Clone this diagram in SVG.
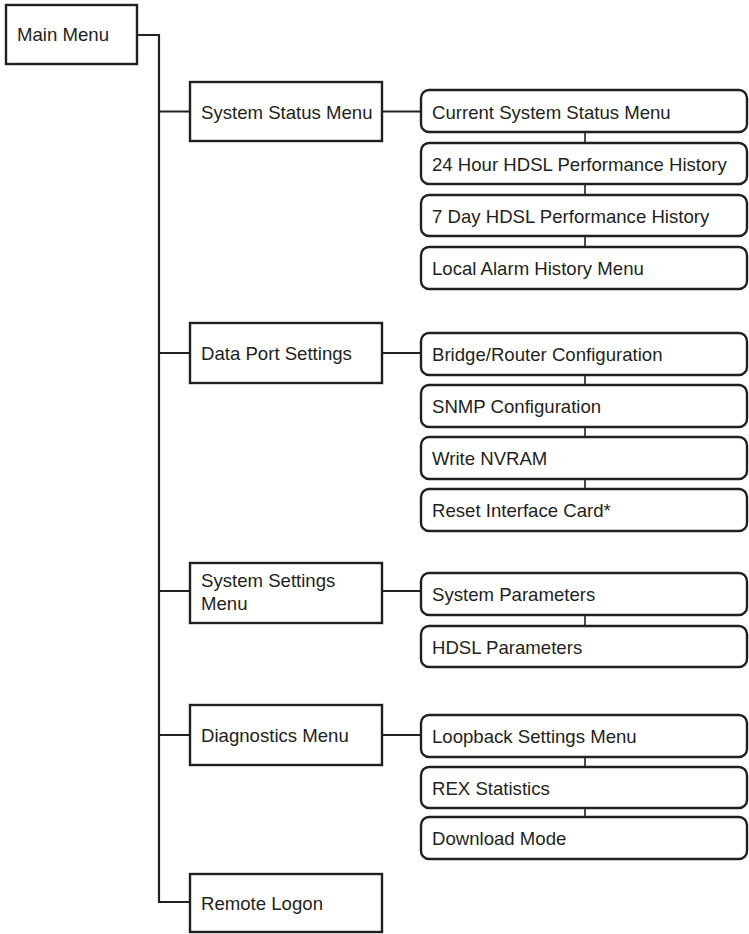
<svg xmlns="http://www.w3.org/2000/svg" width="749" height="934" viewBox="0 0 749 934">
<style>
.box{fill:#fff;stroke:#231f20;stroke-width:2.4}
.sub{fill:#fff;stroke:#231f20;stroke-width:2.4}
.t{font-family:"Liberation Sans",Arial,sans-serif;font-size:18.6px;fill:#231f20}
.c{fill:none;stroke:#231f20;stroke-width:2.2}
.v{fill:none;stroke:#231f20;stroke-width:1.6}
</style>
<rect width="749" height="934" fill="#fff"/>
<g id="connectors">
<path class="c" d="M137,35 H159 V902 H190"/>
<path class="c" d="M159,111.5 H190 M159,353 H190 M159,591 H190 M159,735 H190"/>
<path class="c" d="M382,111.5 H421 M382,353 H421 M382,591 H421 M382,735 H421"/>
<path class="v" d="M585,132 V143 M585,184 V195 M585,236 V247 M585,375 V385 M585,427 V437 M585,479 V489 M585,615 V626 M585,757 V767 M585,808 V817"/>
</g>
<g id="main-menu"><rect class="box" x="6" y="5" width="131" height="59"/><text class="t" x="17" y="41">Main Menu</text></g>
<g id="system-status-menu"><rect class="box" x="190" y="82" width="192" height="59"/><text class="t" x="201" y="118.5">System Status Menu</text></g>
<g id="data-port-settings"><rect class="box" x="190" y="323" width="192" height="60"/><text class="t" x="201" y="360">Data Port Settings</text></g>
<g id="system-settings-menu"><rect class="box" x="190" y="563" width="192" height="60"/><text class="t" x="201" y="587">System Settings</text><text class="t" x="201" y="610">Menu</text></g>
<g id="diagnostics-menu"><rect class="box" x="190" y="705" width="192" height="60"/><text class="t" x="201" y="742">Diagnostics Menu</text></g>
<g id="remote-logon"><rect class="box" x="190" y="874" width="192" height="58"/><text class="t" x="201" y="910">Remote Logon</text></g>
<g id="current-system-status-menu"><rect class="sub" x="421" y="90" width="326" height="42" rx="8"/><text class="t" x="432" y="118.5">Current System Status Menu</text></g>
<g id="hour24-hdsl"><rect class="sub" x="421" y="143" width="326" height="41" rx="8"/><text class="t" x="432" y="171">24 Hour HDSL Performance History</text></g>
<g id="day7-hdsl"><rect class="sub" x="421" y="195" width="326" height="41" rx="8"/><text class="t" x="432" y="223">7 Day HDSL Performance History</text></g>
<g id="local-alarm"><rect class="sub" x="421" y="247" width="326" height="42" rx="8"/><text class="t" x="432" y="275">Local Alarm History Menu</text></g>
<g id="bridge-router"><rect class="sub" x="421" y="333" width="326" height="42" rx="8"/><text class="t" x="432" y="361">Bridge/Router Configuration</text></g>
<g id="snmp"><rect class="sub" x="421" y="385" width="326" height="42" rx="8"/><text class="t" x="432" y="413">SNMP Configuration</text></g>
<g id="write-nvram"><rect class="sub" x="421" y="437" width="326" height="42" rx="8"/><text class="t" x="432" y="465">Write NVRAM</text></g>
<g id="reset-card"><rect class="sub" x="421" y="489" width="326" height="42" rx="8"/><text class="t" x="432" y="517">Reset Interface Card*</text></g>
<g id="system-parameters"><rect class="sub" x="421" y="573" width="326" height="42" rx="8"/><text class="t" x="432" y="601">System Parameters</text></g>
<g id="hdsl-parameters"><rect class="sub" x="421" y="626" width="326" height="41" rx="8"/><text class="t" x="432" y="654">HDSL Parameters</text></g>
<g id="loopback"><rect class="sub" x="421" y="715" width="326" height="42" rx="8"/><text class="t" x="432" y="743">Loopback Settings Menu</text></g>
<g id="rex"><rect class="sub" x="421" y="767" width="326" height="41" rx="8"/><text class="t" x="432" y="795">REX Statistics</text></g>
<g id="download"><rect class="sub" x="421" y="817" width="326" height="42" rx="8"/><text class="t" x="432" y="845">Download Mode</text></g>
</svg>
